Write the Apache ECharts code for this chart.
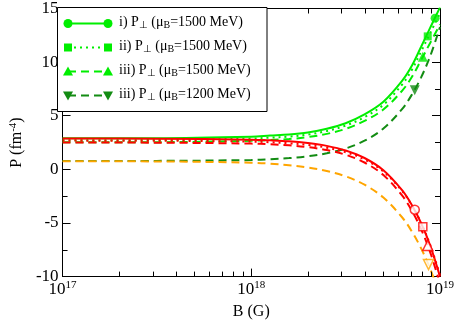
<!DOCTYPE html>
<html><head><meta charset="utf-8">
<script src="https://cdn.jsdelivr.net/npm/echarts@6/dist/echarts.min.js"></script>
<style>html,body{margin:0;padding:0;background:#fff}#c{width:457px;height:326px}</style>
</head><body><div id="c"></div>
<script>
// Magnetic field B (G)
const B = [1e17, 3.162e17, 1e18, 1.259e18, 1.585e18, 1.995e18, 2.512e18, 3.162e18, 3.981e18, 5.012e18, 6.310e18, 7.079e18, 7.943e18, 8.913e18, 1e19];
// Perpendicular pressures (green)
const pPerpI    = [2.90, 2.91, 3.05, 3.15, 3.25, 3.44, 3.78, 4.30, 5.12, 6.30, 8.27, 9.63, 11.43, 13.28, 15.10];
const pPerpII   = [2.72, 2.73, 2.87, 2.96, 3.06, 3.25, 3.58, 4.08, 4.87, 6.02, 7.93, 9.25, 10.99, 12.79, 14.55];
const pPerpIII  = [2.52, 2.53, 2.66, 2.74, 2.83, 3.01, 3.31, 3.78, 4.52, 5.58, 7.35, 8.58, 10.20, 11.86, 13.50];
const pPerp1200 = [0.78, 0.79, 0.87, 0.94, 1.05, 1.22, 1.50, 1.94, 2.67, 3.81, 5.64, 6.94, 8.58, 10.65, 13.28];
// Parallel pressures (red / orange)
const pParI     = [2.87, 2.86, 2.77, 2.71, 2.62, 2.45, 2.19, 1.76, 1.06, -0.08, -1.96, -3.30, -5.01, -7.20, -10.00];
const pParII    = [2.68, 2.67, 2.59, 2.53, 2.43, 2.28, 2.02, 1.60, 0.92, -0.20, -2.03, -3.34, -5.00, -7.14, -9.87];
const pParIII   = [2.50, 2.49, 2.40, 2.34, 2.24, 2.07, 1.80, 1.36, 0.64, -0.53, -2.46, -3.83, -5.58, -7.83, -10.70];
const pPar1200  = [0.76, 0.74, 0.62, 0.53, 0.38, 0.17, -0.15, -0.65, -1.43, -2.63, -4.49, -5.77, -7.37, -9.36, -11.83];
// Marker points (one per curve)
const markB = [9.42e18, 8.61e18, 8.11e18, 7.35e18, 7.35e18, 8.11e18, 8.61e18, 8.69e18];
const markP = [14.1, 12.4, 10.5, 7.37, -3.76, -5.35, -7.1, -8.87];
// Minor x ticks
const xMinor = [2e17,3e17,4e17,5e17,6e17,7e17,8e17,9e17,2e18,3e18,4e18,5e18,6e18,7e18,8e18,9e18];
// Legend labels
const legendRows = [
  ['i) P', '1500'],
  ['ii) P', '1500'],
  ['iii) P', '1500'],
  ['iii) P', '1200']
];

const FONT = '"Liberation Serif","Times New Roman",serif';
const LG = '#00ee00', DG = '#138c13', RED = '#ff0000', OR = '#ffa500';
const DASH = [8, 5], DOT = [2, 4];

const chart = echarts.init(document.getElementById('c'), null, {renderer: 'canvas'});
const pairs = ys => B.map((b, i) => [b, ys[i]]);
function lineS(name, ys, color, type) {
  return {type: 'line', name, data: pairs(ys), symbol: 'none', smooth: 0.35,
    clip: true, lineStyle: {color, width: 2, type}, z: 2, silent: true};
}
function markS(i, symbol, color, filled, size, rot) {
  return {type: 'scatter', data: [[markB[i], markP[i]]], symbol, symbolSize: size, symbolRotate: rot || 0,
    itemStyle: filled ? {color} : {color: '#fff', borderColor: color, borderWidth: 1.5}, z: 5, silent: true};
}

const rowsY = [23.5, 47.5, 71.5, 95.5];
const lgStyles = [
  {c: LG, t: 'solid', s: 'circle'},
  {c: LG, t: DOT, s: 'square'},
  {c: LG, t: DASH, s: 'tri'},
  {c: DG, t: DASH, s: 'itri'}
];
function sym(kind, cx, cy, color) {
  if (kind === 'circle') return {type: 'circle', shape: {cx, cy, r: 4.5}, style: {fill: color}, z: 20};
  if (kind === 'square') return {type: 'rect', shape: {x: cx - 4, y: cy - 4, width: 8, height: 8}, style: {fill: color}, z: 20};
  if (kind === 'tri') return {type: 'polygon', shape: {points: [[cx, cy - 5], [cx + 5, cy + 4], [cx - 5, cy + 4]]}, style: {fill: color}, z: 20};
  return {type: 'polygon', shape: {points: [[cx, cy + 5], [cx + 5, cy - 4], [cx - 5, cy - 4]]}, style: {fill: color}, z: 20};
}
const graphics = [{type: 'rect', shape: {x: 57.5, y: 7.5, width: 209.5, height: 104}, style: {fill: '#fff', stroke: '#000', lineWidth: 1}, z: 15}];
legendRows.forEach((r, i) => {
  const st = lgStyles[i], y = rowsY[i];
  graphics.push({type: 'line', shape: {x1: 68, y1: y, x2: 108, y2: y}, style: {stroke: st.c, lineWidth: 2, lineDash: st.t === 'solid' ? null : st.t}, z: 20});
  graphics.push(sym(st.s, 68, y, st.c));
  graphics.push(sym(st.s, 108, y, st.c));
  graphics.push({type: 'text', x: 119, y: y - 1.5, z: 20, style: {
    text: '{m|' + r[0] + '}{s|\u22A5}{m| (\u03BC}{s|B}{m|=' + r[1] + ' MeV)}',
    verticalAlign: 'middle', align: 'left',
    rich: {m: {fontFamily: FONT, fontSize: 14, lineHeight: 17, fill: '#000'},
           s: {fontFamily: FONT, fontSize: 10, lineHeight: 10, verticalAlign: 'bottom', fill: '#000'}}
  }});
});

const axisCommon = {
  axisLine: {show: true, onZero: false, lineStyle: {color: '#000', width: 1}},
  splitLine: {show: false}
};
chart.setOption({
  animation: false,
  backgroundColor: '#fff',
  grid: {left: 57, right: 17, top: 7, bottom: 46, containLabel: false},
  xAxis: [
    Object.assign({type: 'log', logBase: 10, min: 1e17, max: 1e19, position: 'bottom',
      name: 'B (G)', nameLocation: 'middle', nameGap: 23,
      nameTextStyle: {fontFamily: FONT, fontSize: 16, color: '#000', lineHeight: 18},
      axisTick: {show: true, inside: true, length: 8, lineStyle: {color: '#000'}},
      axisLabel: {show: true, margin: 3, showMinLabel: true, showMaxLabel: true,
        formatter: v => '{b|10}{s|' + Math.round(Math.log10(v)) + '}',
        rich: {b: {fontFamily: FONT, fontSize: 17, lineHeight: 20, color: '#000'},
               s: {fontFamily: FONT, fontSize: 11, lineHeight: 11, verticalAlign: 'top', color: '#000'}}}
    }, axisCommon),
    Object.assign({type: 'log', logBase: 10, min: 1e17, max: 1e19, position: 'top',
      axisTick: {show: true, inside: true, length: 8, lineStyle: {color: '#000'}},
      axisLabel: {show: false}}, axisCommon)
  ],
  yAxis: [
    Object.assign({type: 'value', min: -10, max: 15, interval: 5, position: 'left',
      name: '{a|P (fm}{s|-4}{a|)}', nameLocation: 'middle', nameGap: 33, nameRotate: 90,
      nameTextStyle: {rich: {a: {fontFamily: FONT, fontSize: 16, lineHeight: 18, color: '#000'},
                              s: {fontFamily: FONT, fontSize: 11, lineHeight: 11, verticalAlign: 'top', color: '#000'}}},
      axisTick: {show: true, inside: true, length: 8, lineStyle: {color: '#000'}},
      minorTick: {show: true, splitNumber: 2, length: 5, lineStyle: {color: '#000'}},
      axisLabel: {show: true, margin: 4, fontFamily: FONT, fontSize: 17, color: '#000'}
    }, axisCommon),
    Object.assign({type: 'value', min: -10, max: 15, interval: 5, position: 'right',
      axisTick: {show: true, inside: true, length: 8, lineStyle: {color: '#000'}},
      minorTick: {show: true, splitNumber: 2, length: 5, lineStyle: {color: '#000'}},
      axisLabel: {show: false}}, axisCommon)
  ],
  graphic: graphics,
  series: [
    lineS('perpI', pPerpI, LG, 'solid'),
    lineS('perpII', pPerpII, LG, DOT),
    lineS('perpIII', pPerpIII, LG, DASH),
    lineS('perp1200', pPerp1200, DG, DASH),
    lineS('parI', pParI, RED, 'solid'),
    lineS('parII', pParII, RED, DOT),
    lineS('parIII', pParIII, RED, DASH),
    lineS('par1200', pPar1200, OR, DASH),
    markS(0, 'circle', LG, true, 9),
    markS(1, 'rect', LG, true, 8),
    markS(2, 'triangle', LG, true, 10),
    markS(3, 'triangle', DG, true, 10, 180),
    markS(4, 'circle', RED, false, 9),
    markS(5, 'rect', RED, false, 8),
    markS(6, 'triangle', RED, false, 10),
    markS(7, 'triangle', OR, false, 10, 180),
    {type: 'custom', silent: true, z: 10, data: xMinor.map(v => [v, 0]), encode: {x: 0, y: 1},
      renderItem: (params, api) => {
        const v = api.value(0);
        const b = api.coord([v, -10]);
        const t = api.coord([v, 15]);
        const x = Math.round(b[0]) + 0.5;
        return {type: 'group', children: [
          {type: 'line', shape: {x1: x, y1: b[1], x2: x, y2: b[1] - 5}, style: {stroke: '#000', lineWidth: 1}},
          {type: 'line', shape: {x1: x, y1: t[1], x2: x, y2: t[1] + 5}, style: {stroke: '#000', lineWidth: 1}}
        ]};
      }}
  ]
});
</script></body></html>
